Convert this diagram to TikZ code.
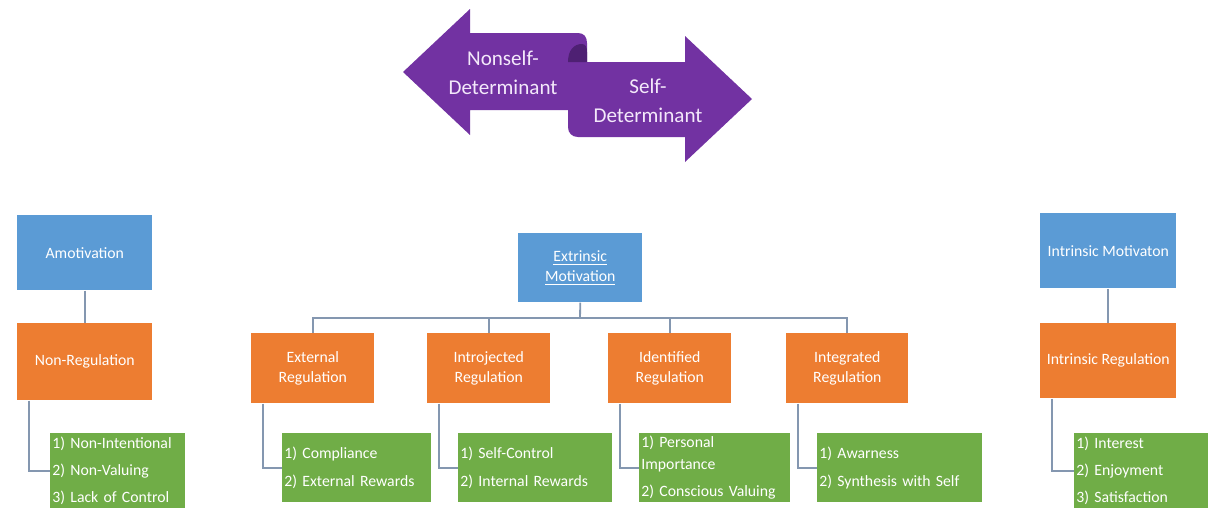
\documentclass[tikz,border=0pt]{standalone}
\usepackage{fontspec}
\setmainfont{Carlito}
\definecolor{motblue}{HTML}{5B9BD5}
\definecolor{regorange}{HTML}{ED7D31}
\definecolor{leafgreen}{HTML}{70AD47}
\definecolor{linkgrey}{HTML}{8497B0}
\definecolor{bannerpurple}{HTML}{7232A2}
\definecolor{bannerdark}{HTML}{4E2073}
\definecolor{bannertext}{HTML}{F3E8FA}

\begin{document}
\begin{tikzpicture}[
    x=0.025cm, y=-0.025cm,
    motive/.style={rectangle, fill=motblue, text=white, anchor=north west, inner sep=0pt, align=center, font=\fontsize{11.2}{14.2}\selectfont},
    regul/.style={motive, fill=regorange},
    leaf/.style={rectangle, fill=leafgreen, text=white, anchor=north west, inner xsep=1.5pt, inner ysep=0pt, align=left, text width=#1, font=\fontsize{11.2}{19.5}\selectfont},
    link/.style={draw=linkgrey, line width=1.3pt},
    banner/.style={text=bannertext, align=center, font=\fontsize{15}{20.6}\selectfont}
]
\useasboundingbox (0,0) rectangle (1208,508);

% Banner arrows
\fill[bannerpurple] (403,72) -- (470,9) -- (470,33) -- (578,33) .. controls (584,33) and (587,37) .. (587,43) -- (587,110) -- (470,110) -- (470,135) -- cycle;
\fill[bannerpurple] (568,62) -- (685,62) -- (685,36) -- (752,99) -- (685,162) -- (685,137) -- (578,137) .. controls (572,137) and (568,133) .. (568,127) -- cycle;
\fill[bannerdark] (568,62) .. controls (568,50) and (574,44) .. (582,44) .. controls (586,44) and (587,48) .. (587,52) -- (587,62) -- cycle;
\node (nonself) [banner] at (503,73) {Nonself-\\Determinant};
\node (self) [banner] at (648,101) {Self-\\Determinant};

% Nodes
\node (amot) [motive, minimum width=3.375cm, minimum height=1.875cm] at (17,215) {Amotivation};
\node (nonreg) [regul, minimum width=3.375cm, minimum height=1.925cm] at (17,323) {Non-Regulation};
\node (amoleaf) [leaf=3.27cm, minimum height=1.875cm] at (50,433) {1) Non-Intentional\\2) Non-Valuing\\3) Lack of Control};

\node (extr) [motive, minimum width=3.1cm, minimum height=1.725cm] at (518,233) {\underline{Extrinsic}\\\underline{Motivation}};
\node (ext) [regul, minimum width=3.075cm, minimum height=1.75cm] at (251,333) {External\\Regulation};
\node (intro) [regul, minimum width=3.075cm, minimum height=1.75cm] at (427,333) {Introjected\\Regulation};
\node (iden) [regul, minimum width=3.075cm, minimum height=1.75cm] at (608,333) {Identified\\Regulation};
\node (integ) [regul, minimum width=3.05cm, minimum height=1.75cm] at (786,333) {Integrated\\Regulation};
\node (extleaf) [leaf=3.62cm, minimum height=1.725cm] at (282,433) {1) Compliance\\2) External Rewards};
\node (introleaf) [leaf=3.745cm, minimum height=1.725cm] at (458,433) {1) Self-Control\\2) Internal Rewards};
\node (idenleaf) [leaf=3.67cm, minimum height=1.725cm] at (639,433) {1) Personal\\[-4.5pt]Importance\\2) Conscious Valuing};
\node (integleaf) [leaf=4.02cm, minimum height=1.725cm] at (817,433) {1) Awarness\\2) Synthesis with Self};

\node (intr) [motive, minimum width=3.4cm, minimum height=1.875cm] at (1040,213) {Intrinsic Motivaton};
\node (intrreg) [regul, minimum width=3.4cm, minimum height=1.875cm] at (1040,323) {Intrinsic Regulation};
\node (intrleaf) [leaf=3.245cm, minimum height=1.875cm] at (1074,433) {1) Interest\\2) Enjoyment\\3) Satisfaction};

\coordinate (bus) at (580,318);

% Connectors
\draw [link] (amot) -- (nonreg);
\draw [link] ([xshift=0.3cm]nonreg.south west) |- (amoleaf.west);

\draw [link] (extr.south) -- (bus);
\draw [link] (ext.north) -- (ext.north |- bus) -- (integ.north |- bus) -- (integ.north);
\draw [link] (intro.north) -- (intro.north |- bus);
\draw [link] (iden.north) -- (iden.north |- bus);
\draw [link] ([xshift=0.3cm]ext.south west) |- (extleaf.west);
\draw [link] ([xshift=0.3cm]intro.south west) |- (introleaf.west);
\draw [link] ([xshift=0.3cm]iden.south west) |- (idenleaf.west);
\draw [link] ([xshift=0.3cm]integ.south west) |- (integleaf.west);

\draw [link] (intr) -- (intrreg);
\draw [link] ([xshift=0.3cm]intrreg.south west) |- (intrleaf.west);

\end{tikzpicture}
\end{document}
